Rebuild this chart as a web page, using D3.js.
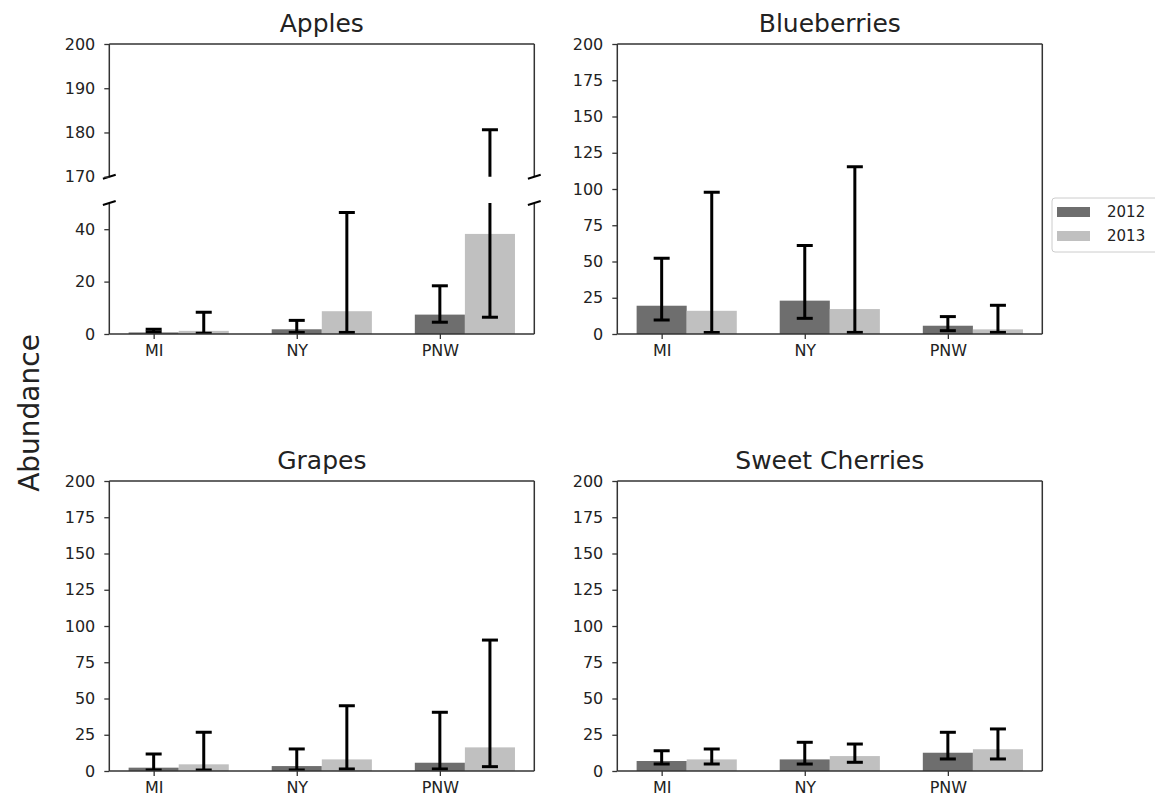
<!DOCTYPE html>
<html>
<head>
<meta charset="utf-8">
<script src="https://cdn.jsdelivr.net/npm/d3@7"></script>
<style>
  body { margin: 0; background: #fff; }
  text { font-family: "DejaVu Sans", sans-serif; }
</style>
</head>
<body>
<script>
// data
var crops = ["Apples", "Blueberries", "Grapes", "Sweet Cherries"];
var regions = ["MI", "NY", "PNW"];
var years = ["2012", "2013"];
var yearColors = ["#6e6e6e", "#c0c0c0"];

// each: [2012 values, 2013 values], one per region
var meanApples = [[0.6, 1.8, 7.4], [1.2, 8.7, 38.2]];
var lowApples  = [[0.8, 0.6, 4.5], [0.3, 0.6, 6.4]];
var highApples = [[1.8, 5.2, 18.4], [8.3, 46.4, 180.6]];

var meanBlue = [[19.5, 23, 5.7], [16, 17.2, 3.2]];
var lowBlue  = [[9.7, 10.8, 2.3], [1.1, 1.1, 1.1]];
var highBlue = [[52.2, 61, 12], [97.7, 115.4, 19.8]];

var meanGrapes = [[2.3, 3.4, 5.7], [4.6, 8, 16.3]];
var lowGrapes  = [[0.7, 0.7, 1.4], [0.7, 1.4, 3]];
var highGrapes = [[11.7, 15.2, 40.5], [26.7, 45, 90.3]];

var meanCherry = [[6.9, 8, 12.6], [8, 10.3, 15]];
var lowCherry  = [[4.8, 4.8, 8.3], [4.8, 6, 8.3]];
var highCherry = [[14, 19.8, 26.7], [15.2, 18.6, 29]];

var fullTicks = [0, 25, 50, 75, 100, 125, 150, 175, 200];
var appleUpperTicks = [170, 180, 190, 200];
var appleLowerTicks = [0, 20, 40];

var W = 1155, H = 800;
var svg = d3.select("body").append("svg")
    .attr("width", W)
    .attr("height", H);
svg.append("rect").attr("width", W).attr("height", H).attr("fill", "#fff");

var barW = 0.35;
var cols = [109.3, 617.3], panelW = 425;
var rows = [44, 481], panelH = 290;

var panels = [
    {name: crops[0], col: 0, row: 0, mean: meanApples, low: lowApples, high: highApples,
     segs: [{domain: [170, 200], y0: 44, y1: 176.7, ticks: appleUpperTicks, top: true, bottom: false},
            {domain: [0, 50], y0: 203, y1: 334, ticks: appleLowerTicks, top: false, bottom: true}]},
    {name: crops[1], col: 1, row: 0, mean: meanBlue, low: lowBlue, high: highBlue},
    {name: crops[2], col: 0, row: 1, mean: meanGrapes, low: lowGrapes, high: highGrapes},
    {name: crops[3], col: 1, row: 1, mean: meanCherry, low: lowCherry, high: highCherry}
];

var spineColor = "#333", textColor = "#222";
var clipId = 0;

panels.forEach(function (p) {
    var left = cols[p.col], top = rows[p.row];
    var segs = p.segs || [{domain: [0, 200], y0: top, y1: top + panelH, ticks: fullTicks, top: true, bottom: true}];

    var xMin = -barW / 2, xMax = (regions.length - 1) + barW * 1.5;
    var pad = (xMax - xMin) * 0.05;
    var x = d3.scaleLinear().domain([xMin - pad, xMax + pad]).range([left, left + panelW]);

    var g = svg.append("g");

    g.append("text")
        .attr("x", left + panelW / 2)
        .attr("y", top - 12)
        .attr("text-anchor", "middle")
        .attr("font-size", 25)
        .attr("fill", textColor)
        .text(p.name);

    segs.forEach(function (s) {
        var y = d3.scaleLinear().domain(s.domain).range([s.y1, s.y0]);
        var id = "clip" + (clipId++);
        g.append("clipPath").attr("id", id)
          .append("rect")
            .attr("x", left).attr("y", s.y0)
            .attr("width", panelW).attr("height", s.y1 - s.y0);

        var plot = g.append("g").attr("clip-path", "url(#" + id + ")");

        years.forEach(function (yr, k) {
            var rowsData = regions.map(function (r, i) {
                return {i: i, m: p.mean[k][i], lo: p.low[k][i], hi: p.high[k][i]};
            });
            plot.selectAll(null).data(rowsData).enter()
                .append("rect")
                .attr("x", function (d) { return x(d.i + k * barW - barW / 2); })
                .attr("width", x(barW) - x(0))
                .attr("y", function (d) { return y(Math.max(d.m, s.domain[0])); })
                .attr("height", function (d) { return Math.max(0, y(s.domain[0]) - y(Math.max(d.m, s.domain[0]))); })
                .attr("fill", yearColors[k]);
        });

        years.forEach(function (yr, k) {
            var rowsData = regions.map(function (r, i) {
                return {i: i, lo: p.low[k][i], hi: p.high[k][i]};
            });
            var eb = plot.selectAll(null).data(rowsData).enter().append("g")
                .attr("stroke", "#000").attr("stroke-width", 3);
            eb.append("line")
                .attr("x1", function (d) { return x(d.i + k * barW); })
                .attr("x2", function (d) { return x(d.i + k * barW); })
                .attr("y1", function (d) { return y(d.lo); })
                .attr("y2", function (d) { return y(d.hi); });
            ["lo", "hi"].forEach(function (key) {
                eb.append("line")
                    .attr("x1", function (d) { return x(d.i + k * barW) - 8; })
                    .attr("x2", function (d) { return x(d.i + k * barW) + 8; })
                    .attr("y1", function (d) { return y(d[key]); })
                    .attr("y2", function (d) { return y(d[key]); });
            });
        });

        // spines
        var sp = g.append("g").attr("stroke", spineColor).attr("stroke-width", 1.5).attr("fill", "none");
        sp.append("line").attr("x1", left).attr("x2", left).attr("y1", s.y0).attr("y2", s.y1);
        sp.append("line").attr("x1", left + panelW).attr("x2", left + panelW).attr("y1", s.y0).attr("y2", s.y1);
        if (s.top) sp.append("line").attr("x1", left).attr("x2", left + panelW).attr("y1", s.y0).attr("y2", s.y0);
        if (s.bottom) sp.append("line").attr("x1", left).attr("x2", left + panelW).attr("y1", s.y1).attr("y2", s.y1);

        // break marks
        var d = 6.4, dv = 2;
        if (!s.bottom) {
            [left, left + panelW].forEach(function (bx) {
                sp.append("line").attr("x1", bx - d).attr("y1", s.y1 + dv)
                  .attr("x2", bx + d).attr("y2", s.y1 - dv).attr("stroke", "#000").attr("stroke-width", 2);
            });
        }
        if (!s.top) {
            [left, left + panelW].forEach(function (bx) {
                sp.append("line").attr("x1", bx - d).attr("y1", s.y0 + dv)
                  .attr("x2", bx + d).attr("y2", s.y0 - dv).attr("stroke", "#000").attr("stroke-width", 2);
            });
        }

        var ay = g.append("g")
            .attr("transform", "translate(" + left + ",0)")
            .call(d3.axisLeft(y).tickValues(s.ticks).tickSize(5).tickSizeOuter(0).tickPadding(9));
        ay.select(".domain").remove();
        ay.selectAll("line").attr("stroke", spineColor).attr("stroke-width", 1.3);
        ay.selectAll("text").attr("font-size", 16).attr("fill", textColor)
            .attr("font-family", "DejaVu Sans");

        if (s.bottom) {
            var ax = g.append("g")
                .attr("transform", "translate(0," + s.y1 + ")")
                .call(d3.axisBottom(x).tickValues(d3.range(regions.length))
                    .tickFormat(function (i) { return regions[i]; })
                    .tickSize(5).tickSizeOuter(0).tickPadding(6));
            ax.select(".domain").remove();
            ax.selectAll("line").attr("stroke", spineColor).attr("stroke-width", 1.3);
            ax.selectAll("text").attr("font-size", 16).attr("fill", textColor)
                .attr("font-family", "DejaVu Sans");
        }
    });
});

// y label
svg.append("text")
    .attr("transform", "translate(39,413) rotate(-90)")
    .attr("text-anchor", "middle")
    .attr("font-size", 28)
    .attr("fill", textColor)
    .text("Abundance");

// legend
var leg = svg.append("g").attr("transform", "translate(1052,198)");
leg.append("rect")
    .attr("width", 106).attr("height", 54).attr("rx", 3)
    .attr("fill", "#fff").attr("stroke", "#ccc");
years.forEach(function (yr, k) {
    leg.append("rect")
        .attr("x", 5).attr("y", 9 + k * 24)
        .attr("width", 33).attr("height", 10)
        .attr("fill", yearColors[k]);
    leg.append("text")
        .attr("x", 55).attr("y", 19 + k * 24)
        .attr("font-size", 15)
        .attr("fill", textColor)
        .text(yr);
});
</script>
</body>
</html>
